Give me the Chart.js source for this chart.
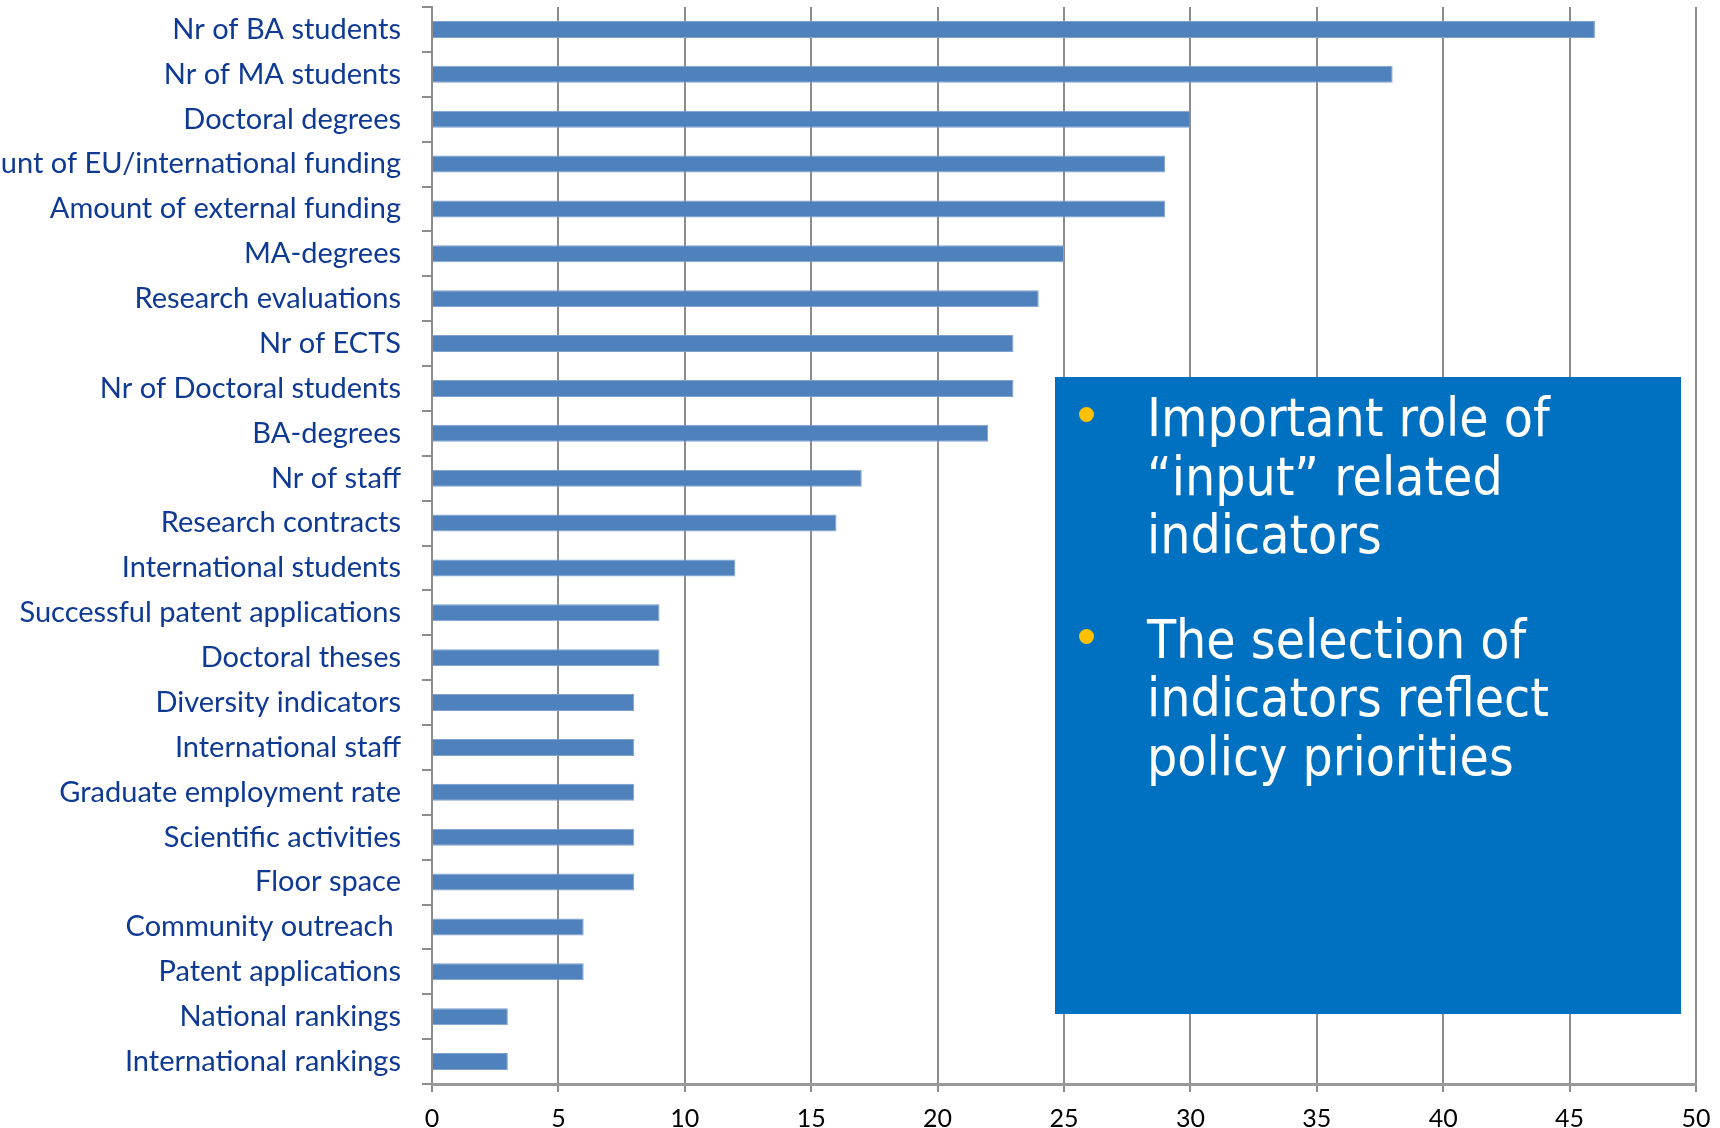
<!DOCTYPE html>
<html>
<head>
<meta charset="utf-8">
<script src="https://cdn.jsdelivr.net/npm/chart.js@4/dist/chart.umd.min.js"></script>
<style>
    html, body { margin: 0; padding: 0; background: #fff; }
    #wrap { position: relative; width: 1720px; height: 1128px; overflow: hidden; }
    #note {
        position: absolute; left: 1055px; top: 377px; width: 626px; height: 637px;
        background: #0070C0; color: #fff;
        font-family: "DejaVu Sans Condensed", "DejaVu Sans", Verdana, sans-serif;
        font-size: 53px; line-height: 58.5px;
    }
    #note p { position: relative; margin: 0; padding-left: 92px; }
    #note p:first-child { margin-top: 12px; }
    #note p + p { margin-top: 46px; }
    #note p::before {
        content: ""; position: absolute; left: 24px; top: 18px;
        width: 15px; height: 15px; border-radius: 50%; background: #FFC000;
    }
</style>
</head>
<body>
<div id="wrap">
    <canvas id="chart" width="1720" height="1128"></canvas>
    <div id="note">
        <p>Important role of<br>“input” related<br>indicators</p>
        <p>The selection of<br>indicators reflect<br>policy priorities</p>
    </div>
</div>
<script>
// indicators, top to bottom
const categories = [
    'Nr of BA students', 'Nr of MA students', 'Doctoral degrees',
    'Amount of EU/international funding', 'Amount of external funding', 'MA-degrees',
    'Research evaluations', 'Nr of ECTS', 'Nr of Doctoral students', 'BA-degrees',
    'Nr of staff', 'Research contracts', 'International students',
    'Successful patent applications', 'Doctoral theses', 'Diversity indicators',
    'International staff', 'Graduate employment rate', 'Scientific activities',
    'Floor space', 'Community outreach ', 'Patent applications',
    'National rankings', 'International rankings'
];
const counts = [46, 38, 30, 29, 29, 25, 24, 23, 23, 22, 17, 16, 12, 9, 9, 8, 8, 8, 8, 8, 6, 6, 3, 3];
const xMin = 0;
const xMax = 50;
const xStep = 5;

const LABEL_FONT = 'Lato, "Open Sans", sans-serif';

// drop the label half-height padding chart.js reserves around the axes
const noPad = s => { s.paddingTop = 0; s.paddingBottom = 0; s.paddingLeft = 0; s.paddingRight = 0; };

new Chart(document.getElementById('chart'), {
    type: 'bar',
    data: {
        labels: categories,
        datasets: [{
            data: counts,
            backgroundColor: '#4F81BD',
            borderColor: '#7EA1CE',
            borderWidth: { top: 1, bottom: 1, left: 0, right: 1 },
            borderSkipped: 'left',
            categoryPercentage: 1,
            barPercentage: 0.38
        }]
    },
    options: {
        indexAxis: 'y',
        responsive: false,
        animation: false,
        devicePixelRatio: 1,
        layout: { padding: { top: 7, right: 24, bottom: 0, left: 0 } },
        plugins: { legend: { display: false }, tooltip: { enabled: false } },
        scales: {
            y: {
                afterFit: s => { s.width = 432; noPad(s); },
                grid: {
                    offset: true,
                    drawOnChartArea: false,
                    drawTicks: true,
                    tickLength: 10,
                    color: '#8c8c8c',
                    lineWidth: 2
                },
                border: { display: true, color: '#8c8c8c', width: 2 },
                ticks: {
                    padding: 21,
                    color: '#0f3a93',
                    font: { family: LABEL_FONT, size: 29 },
                    autoSkip: false
                }
            },
            x: {
                min: xMin,
                max: xMax,
                afterFit: s => { s.height = 44; noPad(s); },
                grid: {
                    color: '#8c8c8c',
                    lineWidth: 2,
                    drawTicks: true,
                    tickLength: 8
                },
                border: { display: true, color: '#999', width: 3 },
                ticks: {
                    stepSize: xStep,
                    padding: 12,
                    color: '#000',
                    maxRotation: 0,
                    font: { family: LABEL_FONT, size: 25 }
                }
            }
        }
    }
});
</script>
</body>
</html>
